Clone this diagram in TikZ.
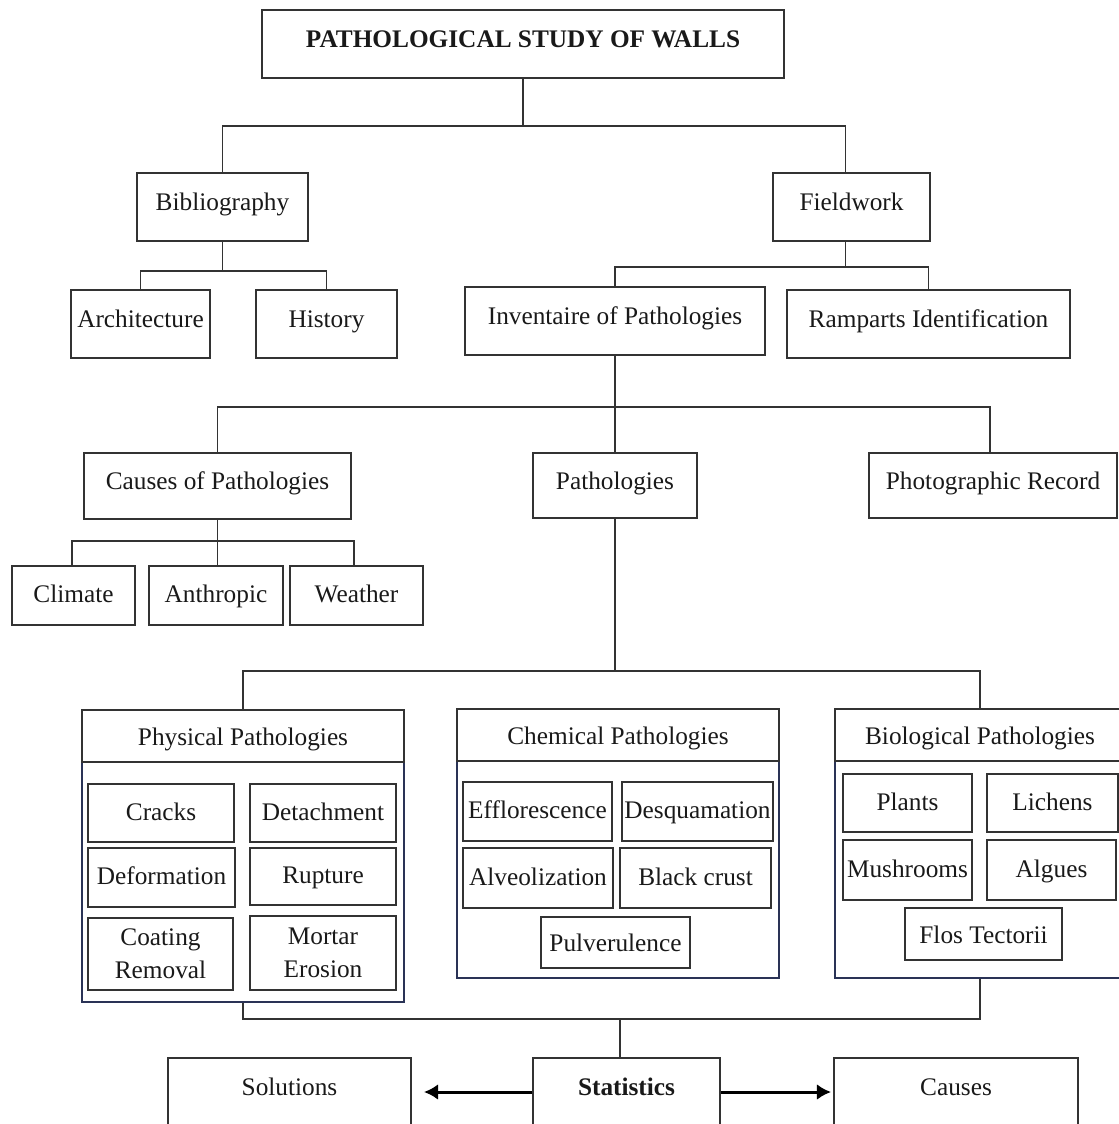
\documentclass[tikz,border=0pt]{standalone}
\usepackage{fontspec}
\setmainfont{Liberation Serif}
\usepackage{tikz}
\usetikzlibrary{arrows.meta}
\usetikzlibrary{calc}
\tikzset{
  % arrow tip for the last row
  >={Latex[length=8pt,width=9pt]},
  % box size given in pixels of the layout grid
  sz/.style 2 args={minimum width=#1*0.02cm, minimum height=#2*0.02cm}
}
\definecolor{inkgray}{HTML}{333333}
\definecolor{panelblue}{HTML}{2A3356}

\begin{document}
\fontsize{14.4}{19}\selectfont
\begin{tikzpicture}[x=0.02cm, y=-0.02cm]
    % Define styles
    \tikzstyle{plain} = [rectangle, draw=inkgray, line width=1.1pt, inner sep=0pt, align=center, text=black!90]
    \tikzstyle{cell} = [plain, text height=11pt, text depth=6.5pt]
    \tikzstyle{item} = [plain, text height=11pt, text depth=2.5pt]
    \tikzstyle{head} = [plain, text height=11pt, text depth=0.5pt]
    \tikzstyle{panel} = [rectangle, draw=panelblue, line width=0.8pt, inner sep=0pt]
    \tikzstyle{link} = [draw=inkgray, line width=1.1pt]
    \tikzstyle{arrow} = [draw=black, line width=1.7pt, ->]

    \useasboundingbox (0,0) rectangle (1118,1124);

    % Place nodes
    \node [cell, sz={522}{68}, font=\bfseries] (title) at (523,44) {PATHOLOGICAL STUDY OF WALLS};
    \node [cell, sz={171}{68}] (biblio) at (222.5,207) {Bibliography};
    \node [cell, sz={157}{68}] (field) at (851.5,207) {Fieldwork};
    \node [cell, sz={139}{68}] (arch) at (140.5,324) {Architecture};
    \node [cell, sz={141}{68}] (hist) at (326.5,324) {History};
    \node [cell, sz={300}{68}] (inv) at (615,321) {Inventaire of Pathologies};
    \node [cell, sz={283}{68}] (ramp) at (928.5,324) {Ramparts Identification};
    \node [cell, sz={267}{66}] (causes) at (217.5,486) {Causes of Pathologies};
    \node [cell, sz={164}{65}] (patho) at (615,485.5) {Pathologies};
    \node [cell, sz={248}{65}] (photo) at (993,485.5) {Photographic Record};
    \node [item, sz={123}{59}] (climate) at (73.5,595.5) {Climate};
    \node [item, sz={134}{59}] (anthro) at (216,595.5) {Anthropic};
    \node [item, sz={133}{59}] (weather) at (356.5,595.5) {Weather};

    % Pathology panels
    \node [panel, sz={322}{240}] (physbody) at (243,882) {};
    \node [head, sz={322}{52}] (physhead) at (243,736) {Physical Pathologies};
    \node [panel, sz={322}{217}] (chembody) at (618,869.5) {};
    \node [head, sz={322}{52}] (chemhead) at (618,735) {Chemical Pathologies};
    \node [panel, sz={290}{217}] (biobody) at (980,869.5) {};
    \node [head, sz={290}{52}] (biohead) at (980,735) {Biological Pathologies};

    \node [item, sz={146}{58}] (cracks) at (161,813) {Cracks};
    \node [item, sz={146}{58}] (detach) at (323,813) {Detachment};
    \node [item, sz={147}{59}] (deform) at (161.5,877.5) {Deformation};
    \node [item, sz={146}{57}] (rupture) at (323,876.5) {Rupture};
    \node [plain, sz={145}{72}] (coating) at (160.5,954) {Coating\\Removal};
    \node [plain, sz={146}{74}] (mortar) at (323,953) {Mortar\\Erosion};

    \node [item, sz={149}{59}] (efflo) at (537.5,811.5) {Efflorescence};
    \node [item, sz={151}{59}] (desq) at (697.5,811.5) {Desquamation};
    \node [item, sz={150}{60}] (alveo) at (538,878) {Alveolization};
    \node [item, sz={151}{60}] (crust) at (695.5,878) {Black crust};
    \node [head, sz={149}{51}] (pulv) at (615.5,942.5) {Pulverulence};

    \node [item, sz={129}{58}] (plants) at (907.5,803) {Plants};
    \node [item, sz={131}{58}] (lichens) at (1052.5,803) {Lichens};
    \node [item, sz={129}{60}] (mush) at (907.5,870) {Mushrooms};
    \node [item, sz={129}{60}] (algues) at (1051.5,870) {Algues};
    \node [head, sz={157}{52}] (flos) at (983.5,934) {Flos Tectorii};

    \node [cell, sz={243}{68}] (sol) at (289.5,1092) {Solutions};
    \node [cell, sz={187}{68}, font=\bfseries] (stat) at (626.5,1092) {Statistics};
    \node [cell, sz={244}{68}] (effects) at (956,1092) {Causes};

    % Draw edges
    \path [link] (title.south) -- ++(0,47) coordinate (j1);
    \path [link] (biblio.north) |- (j1) -| ($(field.north)+(-6,0)$);
    \path [link] (biblio.south) -- ++(0,29) coordinate (j2);
    \path [link] (arch.north) |- (j2) -| (hist.north);
    \path [link] ($(field.south)+(-6,0)$) -- ++(0,25) coordinate (j3);
    \path [link] (inv.north) |- (j3) -| (ramp.north);
    \path [link] (inv.south) -- ++(0,51) coordinate (j4);
    \path [link] (causes.north) |- (j4) -| ($(photo.north)+(-3,0)$);
    \path [link] (j4) -- (patho.north);
    \path [link] (causes.south) -- ++(0,21) coordinate (j5);
    \path [link] ($(climate.north)+(-1.5,0)$) |- (j5) -| ($(weather.north)+(-2.5,0)$);
    \path [link] (j5) -- (j5 |- anthro.north);
    \path [link] (patho.south) -- ++(0,152) coordinate (j6);
    \path [link] (physhead.north) |- (j6) -| (biohead.north);
    \coordinate (j7) at (620,1019);
    \path [link] (physbody.south) |- (j7) -| (biobody.south);
    \path [link] (j7) -- (j7 |- stat.north);
    \path [arrow] (stat.west) -- ($(sol.east)+(12,0)$);
    \path [arrow] (stat.east) -- ($(effects.west)+(-2,0)$);
\end{tikzpicture}
\end{document}
